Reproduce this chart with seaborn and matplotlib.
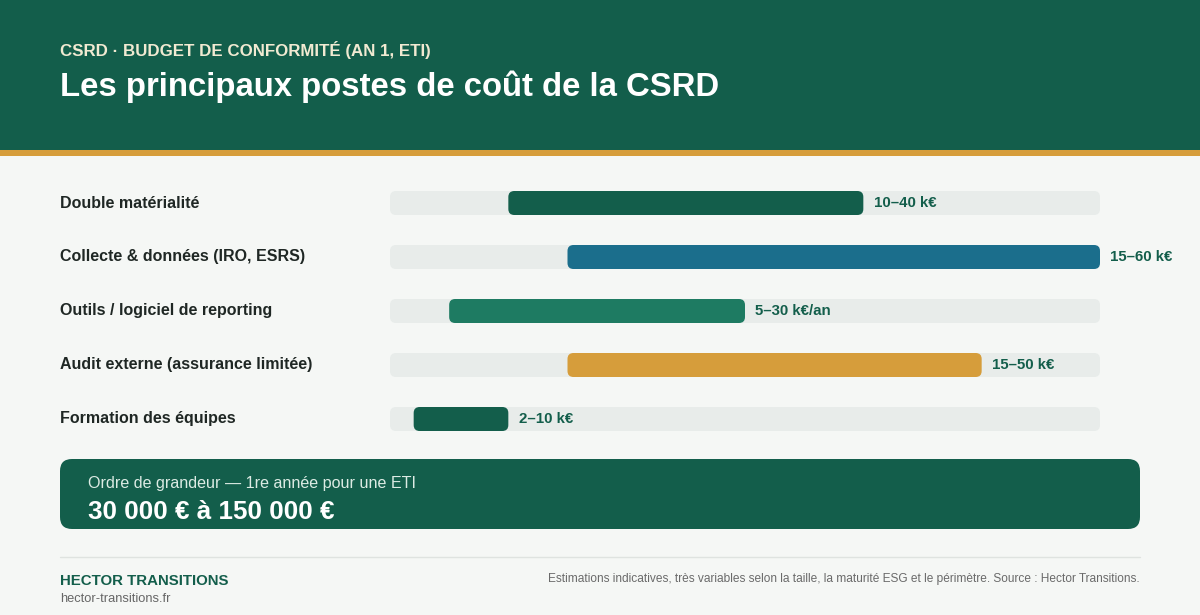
import numpy as np
import pandas as pd
import seaborn as sns
import matplotlib.pyplot as plt
from matplotlib.patches import FancyBboxPatch, Rectangle

sns.set_theme(style="white")
plt.rcParams['font.family'] = ['Liberation Sans', 'DejaVu Sans']

# data (k€)
postes = ["Double matérialité", "Collecte & données (IRO, ESRS)",
          "Outils / logiciel de reporting", "Audit externe (assurance limitée)",
          "Formation des équipes"]
lows = [10, 15, 5, 15, 2]
highs = [40, 60, 30, 50, 10]
value_labels = ["10–40 k€", "15–60 k€", "5–30 k€/an", "15–50 k€", "2–10 k€"]

subtitle = "CSRD · BUDGET DE CONFORMITÉ (AN 1, ETI)"
title = "Les principaux postes de coût de la CSRD"
summary_label = "Ordre de grandeur — 1re année pour une ETI"
summary_value = "30 000 € à 150 000 €"
brand = "HECTOR TRANSITIONS"
site = "hector-transitions.fr"
note = ("Estimations indicatives, très variables selon la taille, la maturité ESG "
        "et le périmètre. Source : Hector Transitions.")

# colours
GREEN = "#135E4B"
BLUE = "#1B6E8C"
MID_GREEN = "#1E7B62"
GOLD = "#D69D3B"
BG = "#F5F7F5"
TRACK = "#E8ECEA"
bar_colors = [GREEN, BLUE, MID_GREEN, GOLD, GREEN]

W, H = 1200, 615
fig = plt.figure(figsize=(W / 100, H / 100), dpi=100, facecolor=BG)

# background layer in pixel coordinates
bg = fig.add_axes([0, 0, 1, 1])
bg.set_xlim(0, W)
bg.set_ylim(H, 0)
bg.axis('off')
bg.add_patch(Rectangle((0, 0), W, 150, fc=GREEN, ec='none'))
bg.add_patch(Rectangle((0, 150), W, 6, fc=GOLD, ec='none'))
bg.text(60, 56, subtitle, color="#F1EAD2", fontsize=12.2, fontweight='bold', va='baseline')
bg.text(60, 96, title, color="white", fontsize=23.7, fontweight='bold', va='baseline')

# summary box
bg.add_patch(FancyBboxPatch((60, 459), 1080, 70, boxstyle="round,pad=0,rounding_size=12",
                            fc=GREEN, ec='none'))
bg.text(88, 488, summary_label, color="#DCEBE4", fontsize=11.6, va='baseline')
bg.text(88, 519, summary_value, color="white", fontsize=18.7, fontweight='bold', va='baseline')

# footer
bg.plot([60, 1140], [557, 557], color="#DFE3E0", lw=1)
bg.text(60, 585, brand, color=GREEN, fontsize=10.8, fontweight='bold', va='baseline')
bg.text(60, 602, site, color="#666666", fontsize=9.3, va='baseline')
bg.text(1140, 582, note, color="#6A6A6A", fontsize=8.55, va='baseline', ha='right')

# bars
x0, x1 = 390, 1100
row_top, row_step = 176, 54
n = len(postes)
ax = fig.add_axes([x0 / W, 1 - (row_top + n * row_step) / H, (x1 - x0) / W, n * row_step / H])
ax.patch.set_alpha(0)

xmax = max(highs)
df = pd.DataFrame({"poste": postes, "low": lows, "high": highs, "track": xmax})
bar_h = 24 / row_step

sns.barplot(data=df, x="track", y="poste", color=TRACK, width=bar_h, saturation=1,
            ax=ax, orient='h')
n_track = len(ax.patches)
sns.barplot(data=df, x="high", y="poste", hue="poste", palette=bar_colors, width=bar_h,
            saturation=1, legend=False, ax=ax, orient='h')

ax.set_xlim(0, xmax)
ax.set_ylim(n - 0.5, -0.5)

px_x = (x1 - x0) / xmax
radius = 6 / px_x
aspect = px_x / row_step
for k, p in enumerate(list(ax.patches)):
    y0, h = p.get_y(), p.get_height()
    i = int(round(y0 + h / 2))
    left = 0 if k < n_track else lows[i]
    right = p.get_x() + p.get_width()
    ax.add_patch(FancyBboxPatch((left, y0), right - left, h,
                                boxstyle=f"round,pad=0,rounding_size={radius}",
                                mutation_aspect=aspect, fc=p.get_facecolor(), ec='none',
                                zorder=2 if k < n_track else 3))
    p.remove()

for i in range(n):
    ax.annotate(value_labels[i], (highs[i], i), xytext=(7.5, 0), textcoords='offset points',
                va='center', ha='left', fontsize=10.8, fontweight='bold', color=GREEN,
                annotation_clip=False)
    ax.text(-(x0 - 60) / (x1 - x0), i, postes[i], transform=ax.get_yaxis_transform(),
            va='center', ha='left', fontsize=11.5, fontweight='bold', color="#1F2724")

ax.set_xlabel("")
ax.set_ylabel("")
ax.set_xticks([])
ax.set_yticks([])
sns.despine(ax=ax, left=True, bottom=True)

fig.savefig("out.png", dpi=100, facecolor=BG)
